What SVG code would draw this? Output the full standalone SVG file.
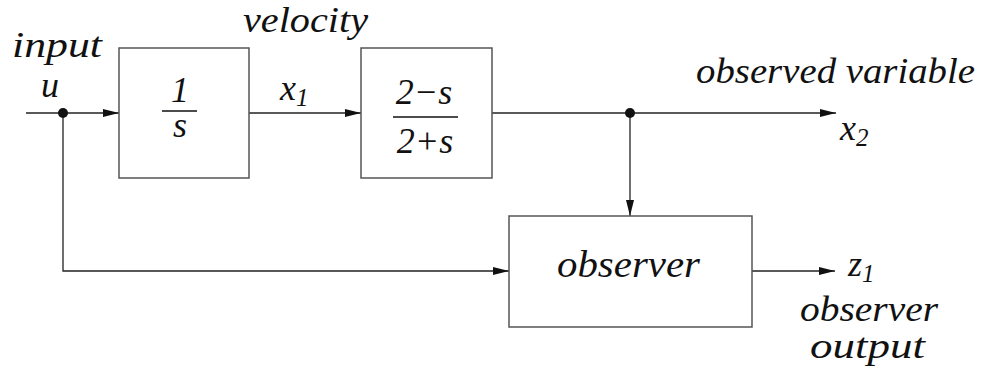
<svg xmlns="http://www.w3.org/2000/svg" width="992" height="369" viewBox="0 0 992 369">
<defs>
<marker id="ar" viewBox="0 0 16 8" refX="16" refY="4" markerWidth="16" markerHeight="8" markerUnits="userSpaceOnUse" orient="auto">
<path d="M0,0 L16,4 L0,8 Z" fill="#111"/>
</marker>
</defs>
<rect width="992" height="369" fill="#fff"/>
<g id="connectors" fill="none" stroke="#222" stroke-width="1.3">
<line x1="26" y1="113" x2="119" y2="113" marker-end="url(#ar)"/>
<line x1="249" y1="113" x2="361" y2="113" marker-end="url(#ar)"/>
<line x1="492" y1="113" x2="836" y2="113" marker-end="url(#ar)"/>
<line x1="630" y1="113" x2="630" y2="216" marker-end="url(#ar)"/>
<polyline points="63,113 63,271 509,271" marker-end="url(#ar)"/>
<line x1="752" y1="271" x2="835" y2="271" marker-end="url(#ar)"/>
<circle cx="63" cy="113" r="5" fill="#111" stroke="none"/>
<circle cx="630" cy="113" r="5" fill="#111" stroke="none"/>
</g>
<g id="integrator">
<rect x="119" y="48" width="130" height="130" fill="#fff" stroke="#555" stroke-width="1.5"/>
<text x="180" y="102" text-anchor="middle" font-family="Liberation Serif" font-style="italic" font-size="36" fill="#111">1</text>
<line x1="162" y1="111" x2="197" y2="111" stroke="#111" stroke-width="1.5"/>
<text x="180" y="137" text-anchor="middle" font-family="Liberation Serif" font-style="italic" font-size="36" fill="#111">s</text>
</g>
<g id="allpass">
<rect x="361" y="48" width="131" height="130" fill="#fff" stroke="#555" stroke-width="1.5"/>
<text x="424" y="104" text-anchor="middle" font-family="Liberation Serif" font-style="italic" font-size="36" fill="#111">2−s</text>
<line x1="393" y1="117" x2="458" y2="117" stroke="#111" stroke-width="1.5"/>
<text x="425" y="153" text-anchor="middle" font-family="Liberation Serif" font-style="italic" font-size="36" fill="#111">2+s</text>
</g>
<g id="observer">
<rect x="509" y="216" width="243" height="111" fill="#fff" stroke="#555" stroke-width="1.5"/>
<text x="557" y="277" font-family="Liberation Serif" font-style="italic" font-size="37" fill="#111" textLength="143" lengthAdjust="spacingAndGlyphs">observer</text>
</g>
<g id="labels" font-family="Liberation Serif" font-style="italic" font-size="36" fill="#111">
<text x="12" y="57" textLength="90" lengthAdjust="spacingAndGlyphs">input</text>
<text x="50" y="97" text-anchor="middle">u</text>
<text x="243" y="32" textLength="125" lengthAdjust="spacingAndGlyphs">velocity</text>
<text x="280" y="100">x<tspan font-size="25" dy="6">1</tspan></text>
<text x="840" y="140">x<tspan font-size="25" dy="6">2</tspan></text>
<text x="696" y="83" textLength="279" lengthAdjust="spacingAndGlyphs">observed variable</text>
<text x="848" y="276">z<tspan font-size="25" dy="6">1</tspan></text>
<text x="800" y="321" textLength="138" lengthAdjust="spacingAndGlyphs">observer</text>
<text x="810" y="358" textLength="115" lengthAdjust="spacingAndGlyphs">output</text>
</g>
</svg>
